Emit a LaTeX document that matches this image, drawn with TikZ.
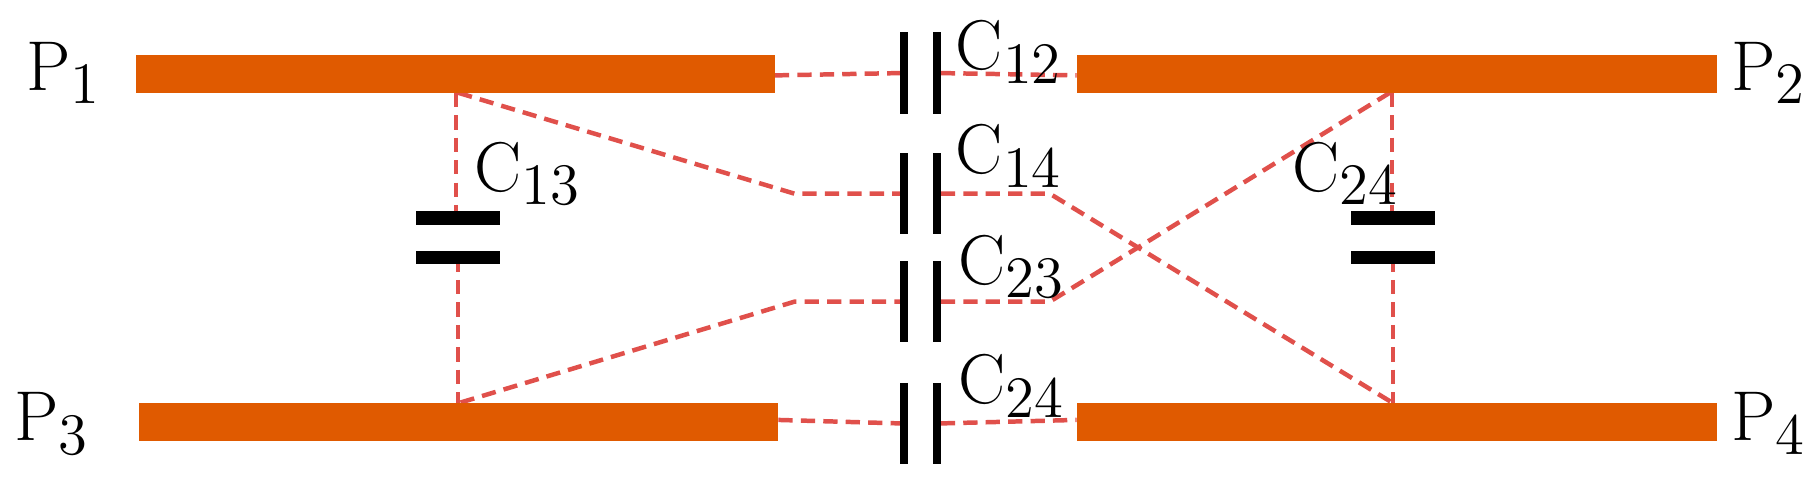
\documentclass[tikz,border=0pt]{standalone}
\begin{document}
\begin{tikzpicture}[x=0.01cm,y=-0.01cm,
  bar/.style={fill={rgb,255:red,224;green,90;blue,0}},
  wire/.style={dash pattern=on 3.5pt off 2pt,line width=1.1pt,color={rgb,255:red,224;green,80;blue,75}},
  plate/.style={line width=2pt,black},
  hplate/.style={line width=3.3pt,black},
  lab/.style={font=\fontsize{19}{22}\selectfont,inner sep=0pt}]
\useasboundingbox (0,0) rectangle (1568,413);
% wires
\draw[wire] (393,80) -- (393,188);
\draw[wire] (395,222) -- (395,347);
\draw[wire] (1200,80) -- (1200,188);
\draw[wire] (1201,222) -- (1201,347);
\draw[wire] (668,65) -- (776,63);
\draw[wire] (811,63) -- (928,65);
\draw[wire] (671,362) -- (776,365);
\draw[wire] (811,365) -- (928,362);
\draw[wire] (395,80) -- (685,167) -- (776,167);
\draw[wire] (811,167) -- (905,167) -- (1200,347);
\draw[wire] (397,347) -- (685,260) -- (776,260);
\draw[wire] (811,260) -- (905,260) -- (1198,80);
\fill[bar] (117,47) rectangle (668,80);
\fill[bar] (928,47) rectangle (1480,80);
\fill[bar] (120,347) rectangle (671,380);
\fill[bar] (928,347) rectangle (1480,380);
\node[lab] (p1) at (55,63) {$\mathrm{P}_1$};
\node[lab] (p2) at (1525,63) {$\mathrm{P}_2$};
\node[lab] (p3) at (45,365) {$\mathrm{P}_3$};
\node[lab] (p4) at (1525,365) {$\mathrm{P}_4$};
\foreach \yc in {63,167,260,365}{
  \draw[plate] (779,\yc-35) -- (779,\yc+35);
  \draw[plate] (808,\yc-35) -- (808,\yc+35);
}
\foreach \xc in {395,1201}{
  \draw[hplate] (\xc-36,188) -- (\xc+36,188);
  \draw[hplate] (\xc-36,222) -- (\xc+36,222);
}
\node[lab] (c12) at (870,45) {$\mathrm{C}_{12}$};
\node[lab] (c14) at (870,135) {$\mathrm{C}_{14}$};
\node[lab] (c23) at (872,230) {$\mathrm{C}_{23}$};
\node[lab] (c24b) at (872,333) {$\mathrm{C}_{24}$};
\node[lab] (c13) at (455,150) {$\mathrm{C}_{13}$};
\node[lab] (c24r) at (1160,150) {$\mathrm{C}_{24}$};
\end{tikzpicture}
\end{document}
